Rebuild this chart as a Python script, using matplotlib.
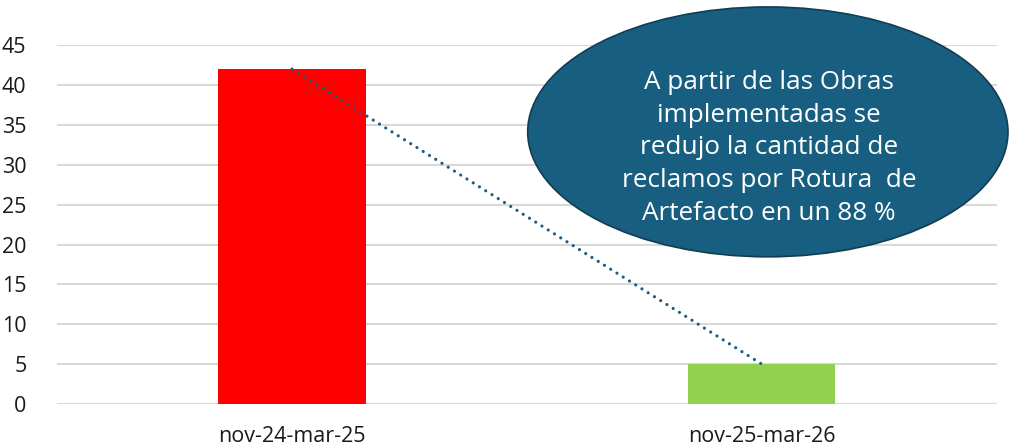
import numpy as np
import matplotlib.pyplot as plt
from matplotlib.patches import Ellipse

# datos
periodos = ['nov-24-mar-25', 'nov-25-mar-26']
reclamos = [42, 5]
colores = ['#ff0000', '#92d050']
nota = ('A partir de las Obras\nimplementadas se\nredujo la cantidad de\n'
        'reclamos por Rotura  de\nArtefacto en un 88 %')

plt.rcParams['font.family'] = ['Open Sans', 'DejaVu Sans']

fig = plt.figure(figsize=(10.09, 4.47), dpi=100)
ax = fig.add_axes([0.0565, 0.096, 0.9315, 0.803])

x = np.arange(len(periodos))
ax.bar(x, reclamos, width=0.313, color=colores, zorder=3)

# línea de tendencia punteada
ax.plot(x, reclamos, linestyle=(0, (0.01, 2.3)), linewidth=2.3,
        color='#1b5e80', dash_capstyle='round', zorder=4)

ax.set_xlim(-0.5, 1.5)
ax.set_ylim(0, 45)
ax.set_yticks(range(0, 46, 5))
ax.set_xticks(x)
ax.set_xticklabels(periodos, fontsize=15.5, color='#1a1a1a')
ax.tick_params(axis='y', labelsize=15.5, labelcolor='#1a1a1a', length=0, pad=22)
ax.tick_params(axis='x', length=0, pad=16)
ax.grid(axis='y', color='#d9d9d9', linewidth=1.5, zorder=0)
for s in ax.spines.values():
    s.set_visible(False)

# globo con el comentario
elipse = Ellipse((0.761, 0.705), 0.476, 0.559, transform=fig.transFigure,
                 facecolor='#175e80', edgecolor='#123d52', linewidth=1.2,
                 clip_on=False, zorder=5)
fig.patches.append(elipse)
fig.text(0.762, 0.669, nota, ha='center', va='center', color='white',
         fontsize=18.8, linespacing=1.4, zorder=6)

fig.savefig('out.png', dpi=100)
